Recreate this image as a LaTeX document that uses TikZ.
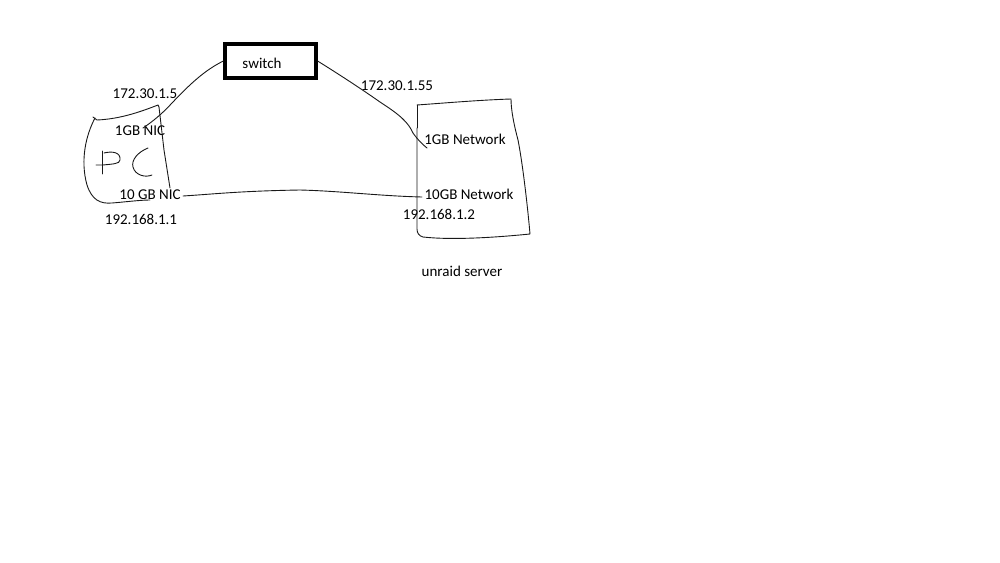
\documentclass[tikz,border=0pt]{standalone}
\usepackage{fontspec}
\setmainfont{Carlito}
\usepackage{tikz}
\usetikzlibrary{positioning}

\begin{document}
\begin{tikzpicture}[x=1pt, y=-1pt,
    lbl/.style={inner sep=0pt, font=\fontsize{15}{17}\selectfont},
    sketch/.style={line width=0.9pt, black!90, line cap=round, line join=round},
    swbox/.style={draw, line width=3.2pt, minimum width=91pt, minimum height=34pt, inner sep=0pt}
]
\useasboundingbox (0,0) rectangle (1000,562);

% switch
\node[swbox] (switch) at (270.5,61) {};
\node[lbl] (swtxt) at (262,63) {switch};

% labels on the pc side
\node[lbl] (ippc1) at (145,94) {172.30.1.5};
\node[lbl] (nic1) at (140,131) {1GB NIC};
\node[lbl] (nic10) at (150,195) {10 GB NIC};
\node[lbl] (ippc10) at (141,219) {192.168.1.1};

% labels on the server side
\node[lbl] (ipsrv1) at (397,86) {172.30.1.55};
\node[lbl] (net1) at (465,139) {1GB Network};
\node[lbl] (net10) at (469,194) {10GB Network};
\node[lbl] (ipsrv10) at (439,214) {192.168.1.2};
\node[lbl] (srvname) at (462,271) {unraid server};

% pc outline
\draw[sketch] (93,117) -- (97,120) .. controls (120,119) and (140,112) .. (158,105)
  -- (159,107) -- (164,150) -- (170,188);
\draw[sketch] (95,118) .. controls (86,135) and (80,160) .. (87,185)
  .. controls (92,200) and (100,204) .. (112,203)
  .. controls (125,202) and (140,200) .. (150,200);
% the letters P C
\draw[sketch] (102,151) -- (102,174);
\draw[sketch] (96,165) -- (103,165) .. controls (112,164) and (120,164) .. (120,160)
  .. controls (121,152) and (112,151) .. (104,153);
\draw[sketch] (148,148) .. controls (138,152) and (131,160) .. (133,167)
  .. controls (135,175) and (145,178) .. (152,175);

% server outline
\draw[sketch] (417,105) -- (417,128);
\draw[sketch] (417,128) -- (417,229) .. controls (417,233) and (419,236) .. (423,237)
  .. controls (450,240) and (490,238) .. (530,234)
  .. controls (527,200) and (522,160) .. (518,140)
  .. controls (514,125) and (511,110) .. (511,99)
  .. controls (480,100) and (445,103) .. (417,105);

% connectors
\coordinate (nic1end) at (143,128);
\coordinate (net1end) at (427,148);
\coordinate (nic10end) at (183,196);
\coordinate (net10end) at (422,197);
\draw[sketch] (switch.west) .. controls (205,70) and (190,84) .. (172,103)
  .. controls (162,114) and (152,122) .. (nic1end);
\draw[sketch] (switch.east) .. controls (340,75) and (360,88) .. (380,102)
  .. controls (400,115) and (408,122) .. (413,133)
  .. controls (418,140) and (422,144) .. (net1end);
\draw[sketch] (nic10end) .. controls (215,194) and (240,191) .. (300,190)
  .. controls (340,191) and (380,196) .. (net10end);
\end{tikzpicture}
\end{document}
